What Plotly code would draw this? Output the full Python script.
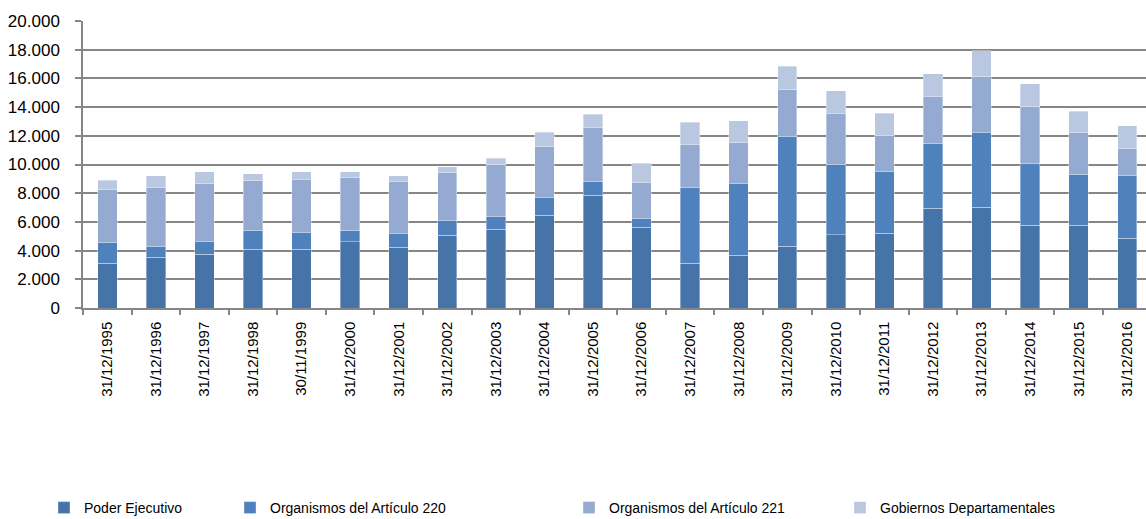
import plotly.graph_objects as go

categories = ["31/12/1995", "31/12/1996", "31/12/1997", "31/12/1998", "30/11/1999",
              "31/12/2000", "31/12/2001", "31/12/2002", "31/12/2003", "31/12/2004",
              "31/12/2005", "31/12/2006", "31/12/2007", "31/12/2008", "31/12/2009",
              "31/12/2010", "31/12/2011", "31/12/2012", "31/12/2013", "31/12/2014",
              "31/12/2015", "31/12/2016"]

poder_ejecutivo = [3130, 3550, 3750, 4100, 4100, 4630, 4240, 5080, 5490, 6470,
                   7860, 5630, 3130, 3680, 4310, 5100, 5210, 6950, 7020, 5770,
                   5770, 4870]
art_220 = [1440, 740, 880, 1320, 1180, 790, 950, 990, 880, 1220,
           950, 580, 5260, 5030, 7670, 4890, 4270, 4500, 5240, 4330,
           3550, 4350]
art_221 = [3680, 4100, 4080, 3480, 3670, 3660, 3620, 3360, 3620, 3550,
           3750, 2530, 2990, 2810, 3270, 3540, 2520, 3270, 3890, 3920,
           2890, 1880]
gob_dep = [650, 830, 770, 440, 530, 400, 410, 400, 440, 1020,
           930, 1340, 1550, 1530, 1580, 1600, 1560, 1620, 1760, 1620,
           1490, 1600]

y_ticks = [0, 2000, 4000, 6000, 8000, 10000, 12000, 14000, 16000, 18000, 20000]
y_tick_text = ["0", "2.000", "4.000", "6.000", "8.000", "10.000", "12.000",
               "14.000", "16.000", "18.000", "20.000"]

series = [
    ("Poder Ejecutivo", poder_ejecutivo, "#4673A8", "legend"),
    ("Organismos del Artículo 220", art_220, "#4F81BD", "legend2"),
    ("Organismos del Artículo 221", art_221, "#95AAD1", "legend3"),
    ("Gobiernos Departamentales", gob_dep, "#B9C7E0", "legend4"),
]

FONT = "Liberation Sans, Arial, sans-serif"

fig = go.Figure()
for name, vals, color, leg in series:
    fig.add_trace(go.Bar(
        x=categories, y=vals, name=name, legend=leg,
        marker=dict(color=color, line=dict(color="rgba(255,255,255,0.6)", width=0.6)),
        width=0.4,
    ))

W, H = 1146, 519
legend_text_x = [84, 270, 609, 880]
legend_common = dict(orientation="h", xref="container", yref="container",
                     xanchor="left", yanchor="middle",
                     font=dict(family=FONT, size=14, color="#000000"),
                     bgcolor="rgba(0,0,0,0)", borderwidth=0, itemwidth=30,
                     traceorder="normal")
legends = {}
for i, tx in enumerate(legend_text_x):
    key = "legend" if i == 0 else f"legend{i+1}"
    legends[key] = dict(legend_common, x=(tx - 40) / W, y=1 - 508 / H)

fig.update_layout(
    barmode="stack",
    width=W, height=H,
    margin=dict(l=83, r=0, t=21, b=211, pad=0),
    plot_bgcolor="white", paper_bgcolor="white",
    font=dict(family=FONT, size=15, color="#000000"),
    bargap=0.6,
    showlegend=True,
    **legends,
)
fig.update_xaxes(
    type="category",
    range=[-0.5, 21.386],
    tickangle=-90,
    tickson="boundaries",
    ticks="outside", ticklen=5, tickwidth=1.5, tickcolor="#868686",
    showline=True, linecolor="#868686", linewidth=1.5,
    showgrid=False,
    tickfont=dict(family=FONT, size=15, color="#000000"),
    ticklabelstandoff=6,
)
fig.update_yaxes(
    range=[0, 20000],
    tickvals=y_ticks, ticktext=y_tick_text,
    ticks="outside", ticklen=6, tickwidth=1.5, tickcolor="#868686",
    showline=True, linecolor="#868686", linewidth=1.5,
    showgrid=True, gridcolor="#868686", gridwidth=1.6,
    zeroline=False,
    tickfont=dict(family=FONT, size=17, color="#000000"),
    ticklabelstandoff=12,
)

fig.write_html("out.html", config={"displayModeBar": False},
               post_script="document.body.style.margin='0';")
